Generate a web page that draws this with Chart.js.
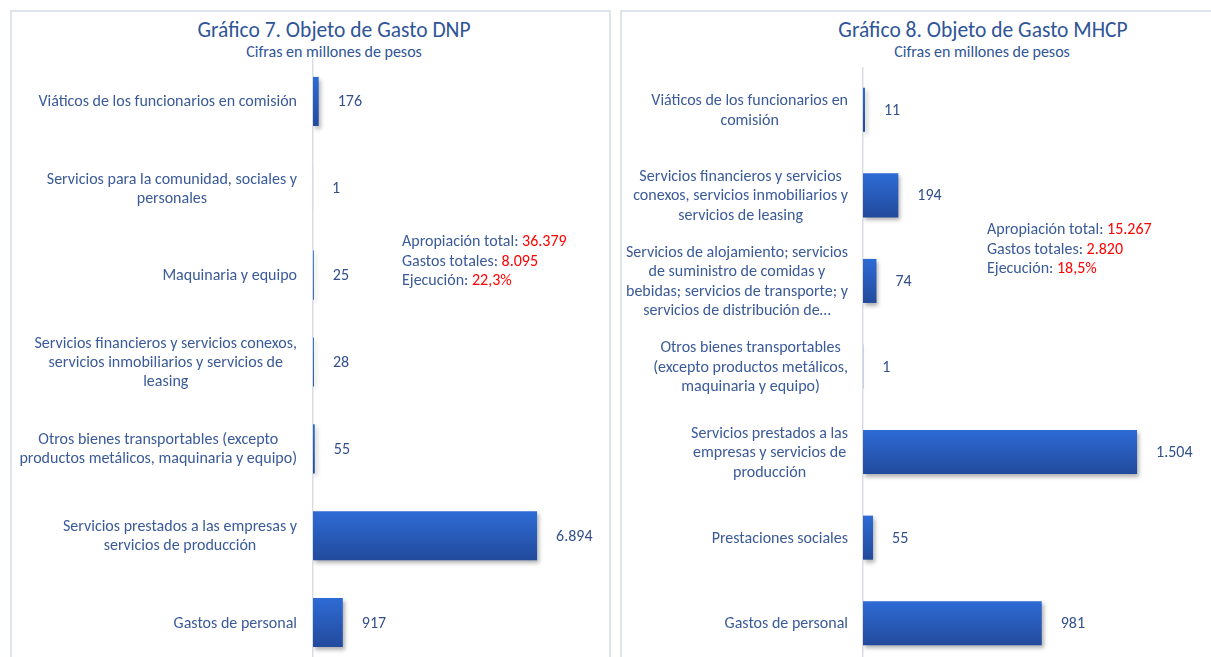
<!DOCTYPE html>
<html lang="es">
<head>
<meta charset="utf-8">
<title>Objeto de Gasto DNP / MHCP</title>
<script src="https://cdn.jsdelivr.net/npm/chart.js@4.4.1/dist/chart.umd.min.js"></script>
<style>
  html, body { margin: 0; padding: 0; background: #fff; }
  body { width: 1211px; height: 657px; overflow: hidden; position: relative; font-family: Carlito, Lato, sans-serif; }
  .panel { position: absolute; top: 10px; height: 700px; border: 2px solid #dfe4eb; box-sizing: border-box; }
  #panel-dnp { left: 10px; width: 601px; }
  #panel-mhcp { left: 620px; width: 640px; }
  canvas { position: absolute; }
  #chart-dnp { left: 10px; top: 58px; }
  #chart-mhcp { left: 621px; top: 67px; }
  .title { position: absolute; transform: translateX(-50%); white-space: nowrap; color: #2f5597; }
  .title.main { font-size: 21.5px; line-height: 26px; top: 17px; }
  .title.sub { font-size: 16px; line-height: 18px; top: 43px; }
  .note { position: absolute; font-size: 16px; line-height: 19.5px; color: #3a5a99; white-space: nowrap; }
  .note span { color: #ff0000; }
</style>
</head>
<body>
<div class="panel" id="panel-dnp"></div>
<div class="panel" id="panel-mhcp"></div>

<div class="title main" style="left:334px">Gráfico 7. Objeto de Gasto DNP</div>
<div class="title sub" style="left:334px">Cifras en millones de pesos</div>
<div class="title main" style="left:983px">Gráfico 8. Objeto de Gasto MHCP</div>
<div class="title sub" style="left:982px">Cifras en millones de pesos</div>

<canvas id="chart-dnp" width="599" height="608"></canvas>
<canvas id="chart-mhcp" width="590" height="599"></canvas>

<div class="note" id="note-dnp" style="left:402px; top:231px"></div>
<div class="note" id="note-mhcp" style="left:987px; top:219px"></div>

<script>
// Gráfico 7 - DNP (top to bottom)
const DNP_LABELS = [
  'Viáticos de los funcionarios en comisión',
  ['Servicios para la comunidad, sociales y', 'personales'],
  'Maquinaria y equipo',
  ['Servicios financieros y servicios conexos,', 'servicios inmobiliarios y servicios de', 'leasing'],
  ['Otros bienes transportables (excepto', 'productos metálicos, maquinaria y equipo)'],
  ['Servicios prestados a las empresas y', 'servicios de producción'],
  'Gastos de personal'
];
const DNP_VALUES = [176, 1, 25, 28, 55, 6894, 917];
const DNP_SUMMARY = ['36.379', '8.095', '22,3%'];

// Gráfico 8 - MHCP (top to bottom)
const MHCP_LABELS = [
  ['Viáticos de los funcionarios en', 'comisión'],
  ['Servicios financieros y servicios', 'conexos, servicios inmobiliarios y', 'servicios de leasing'],
  ['Servicios de alojamiento; servicios', 'de suministro de comidas y', 'bebidas; servicios de transporte; y', 'servicios de distribución de…'],
  ['Otros bienes transportables', '(excepto productos metálicos,', 'maquinaria y equipo)'],
  ['Servicios prestados a las', 'empresas y servicios de', 'producción'],
  'Prestaciones sociales',
  'Gastos de personal'
];
const MHCP_VALUES = [11, 194, 74, 1, 1504, 55, 981];
const MHCP_SUMMARY = ['15.267', '2.820', '18,5%'];

const SUMMARY_NAMES = ['Apropiación total', 'Gastos totales', 'Ejecución'];

(function () {
  'use strict';

  const FONT = 'Carlito, Lato, sans-serif';
  const LABEL_COLOR = '#3a5a99';
  const VALUE_COLOR = '#33508a';
  const AXIS_COLOR = '#d9dde3';
  const BAR_TOP = '#2e6bd5';
  const BAR_BOTTOM = '#224a9c';

  Chart.defaults.font.family = FONT;

  // 6894 -> "6.894"
  function fmt(v) {
    return String(v).replace(/\B(?=(\d{3})+(?!\d))/g, '.');
  }

  function fillNote(id, values) {
    const el = document.getElementById(id);
    el.innerHTML = SUMMARY_NAMES.map((name, i) =>
      `<div>${name}: <span>${values[i]}</span></div>`).join('');
  }

  // vertical gradient per bar, based on the category scale position
  function barGradient(pct) {
    return function (context) {
      const chart = context.chart;
      const y = chart.scales.y;
      const area = chart.chartArea;
      if (!y || !area || context.dataIndex === undefined) return BAR_TOP;
      const c = y.getPixelForValue(context.dataIndex);
      const h = (area.bottom - area.top) / chart.data.labels.length * pct;
      const g = chart.ctx.createLinearGradient(0, c - h / 2, 0, c + h / 2);
      g.addColorStop(0, BAR_TOP);
      g.addColorStop(1, BAR_BOTTOM);
      return g;
    };
  }

  const barShadow = {
    id: 'barShadow',
    beforeDatasetsDraw(chart) {
      const c = chart.ctx;
      c.save();
      c.shadowColor = 'rgba(0, 0, 0, 0.3)';
      c.shadowBlur = 4;
      c.shadowOffsetX = 2;
      c.shadowOffsetY = 3;
    },
    afterDatasetsDraw(chart) {
      chart.ctx.restore();
    }
  };

  // category labels: block right-aligned, lines centered within block
  const wrappedTicks = {
    id: 'wrappedTicks',
    afterDraw(chart, args, opts) {
      const scale = chart.scales.y;
      const ctx = chart.ctx;
      const right = chart.chartArea.left - opts.gap;
      ctx.save();
      ctx.font = '16px ' + FONT;
      ctx.fillStyle = LABEL_COLOR;
      ctx.textAlign = 'center';
      ctx.textBaseline = 'middle';
      chart.data.labels.forEach((label, i) => {
        const lines = Array.isArray(label) ? label : [label];
        const cy = scale.getPixelForTick(i) + 1;
        const w = Math.max(...lines.map(l => ctx.measureText(l).width));
        const cx = right - w / 2;
        lines.forEach((l, k) => {
          ctx.fillText(l, cx, cy + (k - (lines.length - 1) / 2) * opts.lineHeight);
        });
      });
      ctx.restore();
    }
  };

  const valueLabels = {
    id: 'valueLabels',
    afterDraw(chart) {
      const ctx = chart.ctx;
      const meta = chart.getDatasetMeta(0);
      const data = chart.data.datasets[0].data;
      ctx.save();
      ctx.font = '16px ' + FONT;
      ctx.fillStyle = VALUE_COLOR;
      ctx.textAlign = 'left';
      ctx.textBaseline = 'middle';
      meta.data.forEach((bar, i) => {
        ctx.fillText(fmt(data[i]), bar.x + 19, bar.y + 1);
      });
      ctx.restore();
    }
  };

  function makeChart(canvasId, labels, values, cfg) {
    return new Chart(document.getElementById(canvasId), {
      type: 'bar',
      data: {
        labels: labels,
        datasets: [{
          data: values,
          backgroundColor: barGradient(cfg.barPct),
          borderWidth: 0,
          barPercentage: cfg.barPct,
          categoryPercentage: 1
        }]
      },
      options: {
        indexAxis: 'y',
        responsive: false,
        animation: false,
        events: [],
        layout: { padding: { top: 0, bottom: 0, left: 0, right: cfg.padRight } },
        plugins: {
          legend: { display: false },
          tooltip: { enabled: false },
          title: { display: false },
          wrappedTicks: { gap: cfg.gap, lineHeight: cfg.lineHeight }
        },
        scales: {
          x: {
            display: false,
            min: 0,
            max: cfg.max
          },
          y: {
            grid: { display: false },
            border: { display: true, color: AXIS_COLOR, width: 1.5 },
            ticks: { display: false },
            afterFit: function (scale) { scale.width = cfg.axisWidth; }
          }
        }
      },
      plugins: [barShadow, wrappedTicks, valueLabels]
    });
  }

  makeChart('chart-dnp', DNP_LABELS, DNP_VALUES, {
    barPct: 0.565, max: 8000, axisWidth: 303, padRight: 36, gap: 16, lineHeight: 19
  });

  makeChart('chart-mhcp', MHCP_LABELS, MHCP_VALUES, {
    barPct: 0.515, max: 1800, axisWidth: 242, padRight: 20, gap: 15, lineHeight: 19.5
  });

  fillNote('note-dnp', DNP_SUMMARY);
  fillNote('note-mhcp', MHCP_SUMMARY);
})();
</script>
</body>
</html>
